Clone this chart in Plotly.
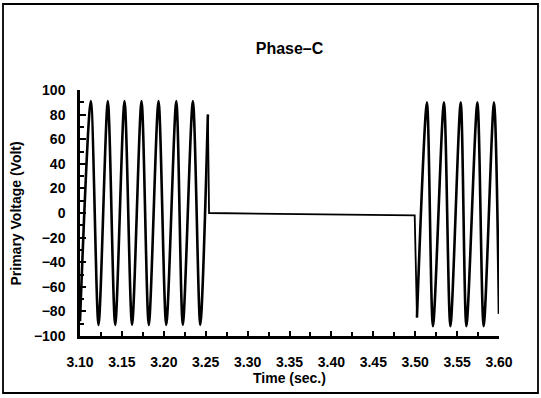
import plotly.graph_objects as go

# Segment 1 (before interruption): read peaks/troughs
t_seg1 = [3.1000, 3.1129, 3.1221, 3.1332, 3.1420, 3.1531, 3.1621, 3.1734,
          3.1821, 3.1937, 3.2029, 3.2149, 3.2227, 3.2347, 3.2435, 3.2526]
v_seg1 = [-88, 91, -91, 91, -91, 91, -91, 91,
          -91, 91, -91, 91, -91, 91, -91, 80]

# Interruption (drop to zero, flat, then re-energise)
t_gap = [3.2526, 3.2540, 3.4994, 3.5021]
v_gap = [80, 0, -2, -85]

# Segment 2 (after reclosing)
t_seg2 = [3.5021, 3.5140, 3.5212, 3.5343, 3.5420, 3.5543, 3.5611, 3.5742,
          3.5817, 3.5940, 3.6000]
v_seg2 = [-85, 90, -92, 90, -92, 90, -92, 90, -92, 90, -82]

x_ticks = [3.10, 3.15, 3.20, 3.25, 3.30, 3.35, 3.40, 3.45, 3.50, 3.55, 3.60]
y_ticks = [100, 80, 60, 40, 20, 0, -20, -40, -60, -80, -100]

FONT = "Liberation Sans"

fig = go.Figure()
fig.add_trace(go.Scatter(x=t_seg1, y=v_seg1, mode="lines",
                         line=dict(color="black", width=2.6, shape="spline", smoothing=0.8),
                         showlegend=False, hoverinfo="skip"))
fig.add_trace(go.Scatter(x=t_gap, y=v_gap, mode="lines",
                         line=dict(color="black", width=1.8),
                         showlegend=False, hoverinfo="skip"))
fig.add_trace(go.Scatter(x=t_seg2, y=v_seg2, mode="lines",
                         line=dict(color="black", width=2.6, shape="spline", smoothing=0.8),
                         showlegend=False, hoverinfo="skip"))

L, R, T, B = 80, 42, 90, 62
W, H = 541, 398
pw, ph = W - L - R, H - T - B

def px_x(px):
    return (px - L) / pw

def px_y(py):
    return (H - B - py) / ph

fig.update_layout(
    width=W, height=H,
    margin=dict(l=L, r=R, t=T, b=B, pad=0),
    paper_bgcolor="white", plot_bgcolor="white",
    font=dict(family=FONT, size=14, color="black", weight="bold"),
    title=dict(text="Phase–C", x=0.5, xref="paper", xanchor="center",
               y=1 - 48 / H, yref="container", yanchor="middle",
               font=dict(family=FONT, size=16, color="black", weight="bold")),
    xaxis=dict(range=[3.10, 3.60], tickvals=x_ticks, tickformat=".2f",
               ticks="inside", ticklen=5, tickwidth=1.5, tickcolor="black",
               minor=dict(dtick=0.025, tick0=3.10, ticks="inside", ticklen=4,
                          tickwidth=1.5, tickcolor="black"),
               showline=True, linecolor="black", linewidth=2.5,
               showgrid=False, zeroline=False, ticklabelstandoff=11,
               tickfont=dict(family=FONT, size=14, color="black", weight="bold")),
    yaxis=dict(range=[-100, 100], tickvals=y_ticks,
               ticks="inside", ticklen=6, tickwidth=1.5, tickcolor="black",
               minor=dict(dtick=10, tick0=0, ticks="inside", ticklen=4,
                          tickwidth=1.5, tickcolor="black"),
               showline=True, linecolor="black", linewidth=2.5,
               showgrid=False, zeroline=False, ticklabelstandoff=9,
               tickfont=dict(family=FONT, size=14, color="black", weight="bold")),
    annotations=[
        dict(text="Time (sec.)", x=0.5, y=px_y(378), xref="paper", yref="paper",
             xanchor="center", yanchor="middle", showarrow=False,
             font=dict(family=FONT, size=14, color="black", weight="bold")),
        dict(text="Primary Voltage (Volt)", x=px_x(15.5), y=px_y(214),
             xref="paper", yref="paper", xanchor="center", yanchor="middle",
             textangle=-90, showarrow=False,
             font=dict(family=FONT, size=14, color="black", weight="bold")),
    ],
    shapes=[
        dict(type="rect", xref="paper", yref="paper",
             x0=px_x(3), x1=px_x(538), y0=px_y(393), y1=px_y(4),
             line=dict(color="black", width=1.8), fillcolor="rgba(0,0,0,0)",
             layer="below"),
    ],
)

fig.write_html("out.html")
